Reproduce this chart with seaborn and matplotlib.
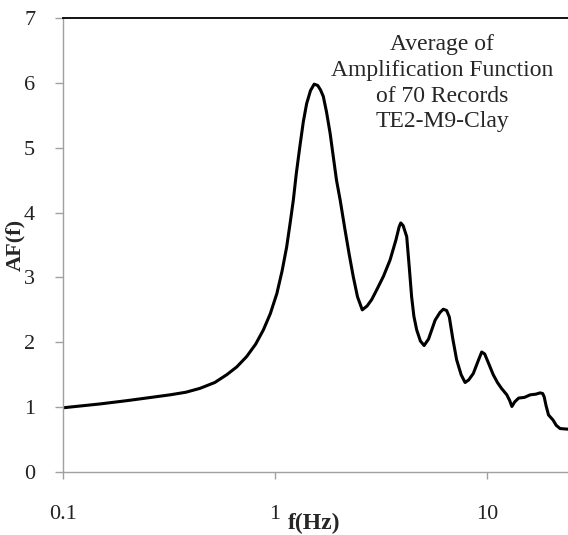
import matplotlib
matplotlib.use("Agg")
import matplotlib.pyplot as plt
import seaborn as sns
import pandas as pd

# Average amplification function (frequency in Hz, amplification)
freq_hz = [0.10, 0.15, 0.20, 0.26, 0.32, 0.38, 0.443, 0.52, 0.592, 0.66,
           0.735, 0.81, 0.881, 0.95, 1.02, 1.08, 1.135, 1.18, 1.22, 1.26,
           1.31, 1.36, 1.41, 1.47, 1.53, 1.59, 1.64, 1.69, 1.75, 1.82,
           1.88, 1.95, 2.03, 2.14, 2.24, 2.34, 2.45, 2.58, 2.72, 2.86,
           3.02, 3.25, 3.49, 3.72, 3.85, 3.92, 4.02, 4.18, 4.30, 4.41,
           4.52, 4.66, 4.85, 5.05, 5.30, 5.69, 6.00, 6.22, 6.45, 6.64,
           6.90, 7.19, 7.55, 7.88, 8.20, 8.62, 9.10, 9.44, 9.75, 10.1,
           10.7, 11.2, 11.7, 12.4, 12.8, 13.1, 13.5, 14.1, 15.0, 16.0,
           17.0, 17.8, 18.3, 18.6, 19.0, 19.5, 20.5, 21.2, 22.1, 24.1]
amplification = [0.99, 1.05, 1.10, 1.15, 1.19, 1.23, 1.29, 1.38, 1.50, 1.62,
                 1.78, 1.97, 2.19, 2.44, 2.75, 3.10, 3.47, 3.85, 4.19, 4.60,
                 5.02, 5.40, 5.68, 5.88, 5.98, 5.96, 5.89, 5.79, 5.55, 5.22,
                 4.88, 4.50, 4.19, 3.73, 3.35, 3.01, 2.70, 2.50, 2.56, 2.66,
                 2.81, 3.02, 3.27, 3.58, 3.78, 3.84, 3.80, 3.63, 3.15, 2.70,
                 2.40, 2.19, 2.02, 1.95, 2.05, 2.34, 2.46, 2.51, 2.49, 2.39,
                 2.05, 1.73, 1.50, 1.38, 1.42, 1.52, 1.72, 1.85, 1.82, 1.70,
                 1.50, 1.38, 1.29, 1.19, 1.10, 1.01, 1.08, 1.14, 1.15, 1.19,
                 1.20, 1.22, 1.21, 1.16, 1.02, 0.88, 0.80, 0.72, 0.67, 0.66]

x_ticks = [0.1, 1, 10]
x_tick_labels = ["0.1", "1", "10"]
y_ticks = [0, 1, 2, 3, 4, 5, 6, 7]

annotation = "Average of\nAmplification Function\nof 70 Records\nTE2-M9-Clay"

sns.set_theme(style="white")
plt.rcParams["font.family"] = ["Liberation Serif", "DejaVu Serif"]

df = pd.DataFrame({"f": freq_hz, "AF": amplification})

fig = plt.figure(figsize=(5.68, 5.35), dpi=100)
ax = fig.add_axes([63 / 568, 1 - 472 / 535, 1 - 63 / 568, (472 - 18) / 535])

sns.lineplot(data=df, x="f", y="AF", ax=ax, color="black", linewidth=2.2,
             sort=False)

ax.set_xscale("log")
ax.set_xlim(0.1, 24.1)
ax.set_ylim(0, 7)
ax.set_xticks(x_ticks)
ax.set_xticklabels(x_tick_labels)
ax.minorticks_off()
ax.set_yticks(y_ticks)

gray = "#a0a0a0"
for side in ("left", "bottom"):
    ax.spines[side].set_color(gray)
    ax.spines[side].set_linewidth(1.0)
ax.spines["top"].set_color("black")
ax.spines["top"].set_linewidth(1.3)
ax.spines["right"].set_visible(False)

ax.tick_params(axis="y", direction="out", length=6, width=1.0, color=gray,
               pad=14, labelsize=16, labelcolor="#222222", left=True)
ax.tick_params(axis="x", direction="out", length=5, width=1.0, color=gray,
               pad=19, labelsize=16, labelcolor="#222222", bottom=True)

ax.set_xlabel("")
ax.set_ylabel("")
fig.text(15 / 568, 1 - 245 / 535, "AF(f)", rotation=90, fontsize=16,
         fontweight="bold", ha="center", va="center")
fig.text(314 / 568, 1 - 523 / 535, "f(Hz)", fontsize=17, fontweight="bold",
         ha="center", va="center")

ax.text(442 / 568, 1 - 34 / 535, annotation, transform=fig.transFigure,
        ha="center", va="top", fontsize=17, linespacing=1.3)

fig.savefig("out.png", dpi=100)
